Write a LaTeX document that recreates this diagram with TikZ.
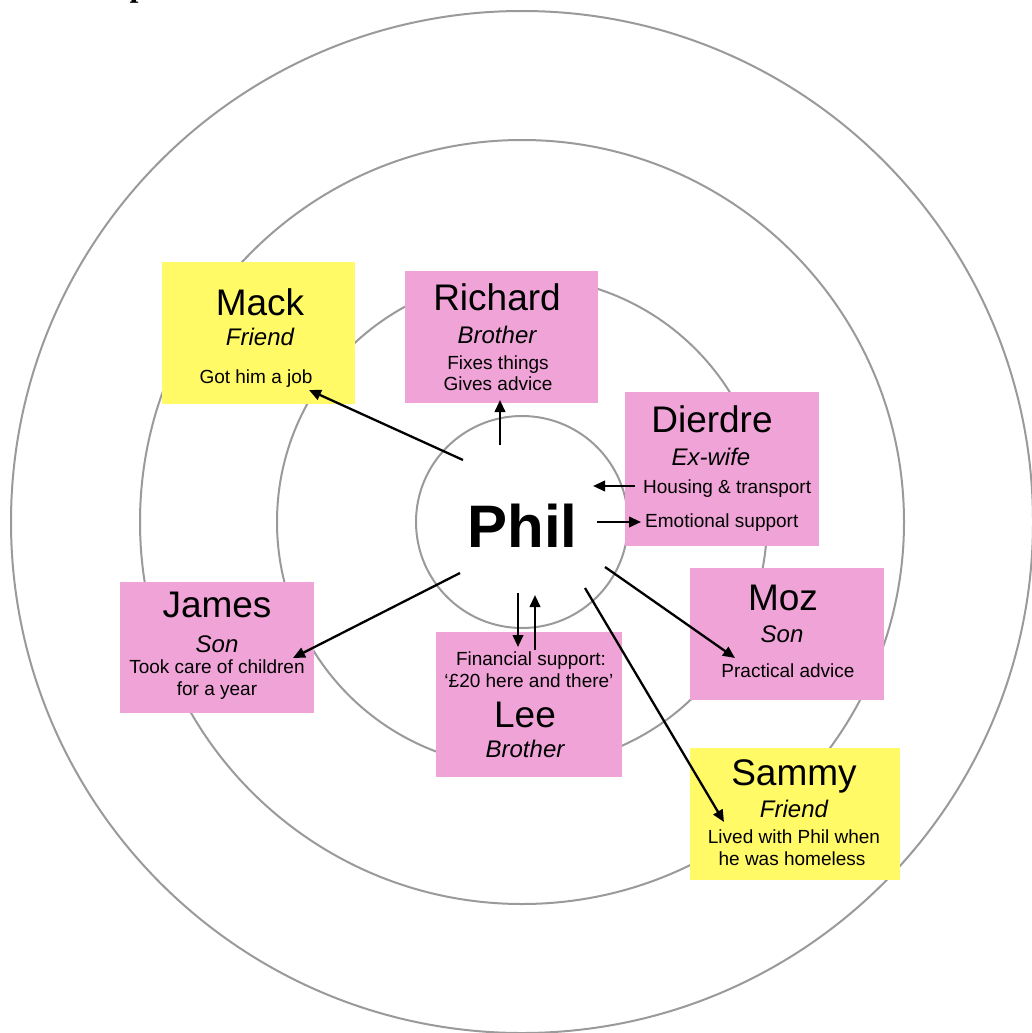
\documentclass[tikz,border=0pt]{standalone}
\usepackage{fontspec}
\setmainfont{Liberation Sans}
\newfontfamily\titlefont{Liberation Serif}
\usetikzlibrary{arrows.meta}
\definecolor{ringgray}{HTML}{9A9A9A}
\definecolor{cardpink}{HTML}{EFA3D7}
\definecolor{cardyellow}{HTML}{FFFA66}
\tikzset{
  ring/.style={draw=ringgray, line width=2pt},
  card/.style={rectangle, inner sep=0pt, anchor=north west},
  pinkcard/.style={card, fill=cardpink},
  yellowcard/.style={card, fill=cardyellow},
  nametext/.style={anchor=base, inner sep=0pt, font=\fontsize{37}{40}\selectfont},
  roletext/.style={anchor=base, inner sep=0pt, font=\fontsize{24}{28}\selectfont\itshape},
  infotext/.style={anchor=base, inner sep=0pt, font=\fontsize{19}{22}\selectfont},
  link/.style={line width=2.3pt, -{Triangle[length=12pt,width=10.5pt]}},
}
\begin{document}
\begin{tikzpicture}[x=1pt,y=-1pt]
\useasboundingbox (0,0) rectangle (1032,1033);
\fill[white] (0,0) rectangle (1032,1033);
\begin{scope}
\clip (0,0) rectangle (1032,1033);
% heading above the chart (runs off the top edge)
\node[anchor=base west, inner sep=0pt, font=\titlefont\bfseries\fontsize{32}{36}\selectfont] (heading) at (129.5,-3.5) {p};
% concentric rings
\draw[ring] (522,522) circle[radius=511pt];
\draw[ring] (522,522) circle[radius=382pt];
\draw[ring] (522,522) circle[radius=245pt];
\node[circle, ring, minimum size=212pt, inner sep=0pt] (philring) at (522,522) {};
\end{scope}

% centre
\node[anchor=base, inner sep=0pt, font=\fontsize{60}{64}\selectfont\bfseries] (phil) at (522.5,547) {Phil};

% Mack
\node[yellowcard, minimum width=193pt, minimum height=142pt] (mack) at (162,262) {};
\node[nametext] (mack-name) at (260,315) {Mack};
\node[roletext] (mack-role) at (260,345) {Friend};
\node[infotext] (mack-info) at (256,383) {Got him a job};

% Richard
\node[pinkcard, minimum width=193pt, minimum height=132pt] (richard) at (405,271) {};
\node[nametext] (richard-name) at (497,310) {Richard};
\node[roletext] (richard-role) at (497,343) {Brother};
\node[infotext] (richard-info1) at (498,369) {Fixes things};
\node[infotext] (richard-info2) at (498,390) {Gives advice};

% Dierdre
\node[pinkcard, minimum width=194pt, minimum height=154pt] (dierdre) at (625,392) {};
\node[nametext] (dierdre-name) at (712,432) {Dierdre};
\node[roletext] (dierdre-role) at (711,465) {Ex-wife};
\node[infotext, anchor=base west] (dierdre-info1) at (643,493) {Housing \& transport};
\node[infotext, anchor=base west] (dierdre-info2) at (645,527) {Emotional support};

% James
\node[pinkcard, minimum width=194pt, minimum height=131pt] (james) at (120,582) {};
\node[nametext] (james-name) at (217,617) {James};
\node[roletext] (james-role) at (217,652) {Son};
\node[infotext] (james-info1) at (217,673) {Took care of children};
\node[infotext] (james-info2) at (217,695) {for a year};

% Lee
\node[pinkcard, minimum width=186pt, minimum height=145pt] (lee) at (436,632) {};
\node[infotext] (lee-info1) at (531,665) {Financial support:};
\node[infotext] (lee-info2) at (529,687) {‘£20 here and there’};
\node[nametext] (lee-name) at (525,727) {Lee};
\node[roletext] (lee-role) at (525,757) {Brother};

% Moz
\node[pinkcard, minimum width=194pt, minimum height=132pt] (moz) at (690,568) {};
\node[nametext] (moz-name) at (783,610) {Moz};
\node[roletext] (moz-role) at (782,642) {Son};
\node[infotext] (moz-info) at (788,677) {Practical advice};

% Sammy
\node[yellowcard, minimum width=210pt, minimum height=132pt] (sammy) at (690,748) {};
\node[nametext] (sammy-name) at (794,785) {Sammy};
\node[roletext] (sammy-role) at (794,817) {Friend};
\node[infotext] (sammy-info1) at (794,843) {Lived with Phil when};
\node[infotext] (sammy-info2) at (792,865) {he was homeless};

% connector end points
\coordinate (to-mack-s) at (463,460);   \coordinate (to-mack-e) at (309,390);
\coordinate (to-richard-s) at (500,445); \coordinate (to-richard-e) at (500,400);
\coordinate (from-dierdre-s) at (635,486); \coordinate (from-dierdre-e) at (593,486);
\coordinate (to-dierdre-s) at (597,522); \coordinate (to-dierdre-e) at (641,522);
\coordinate (to-james-s) at (460,573);  \coordinate (to-james-e) at (293,658);
\coordinate (to-lee-s) at (518,593);    \coordinate (to-lee-e) at (518,647);
\coordinate (from-lee-s) at (535,650);  \coordinate (from-lee-e) at (535,595);
\coordinate (to-moz-s) at (605,567);    \coordinate (to-moz-e) at (735,658);
\coordinate (to-sammy-s) at (585,588);  \coordinate (to-sammy-e) at (724,822);

% connectors
\draw[link] (to-mack-s) -- (to-mack-e);
\draw[link] (to-richard-s) -- (to-richard-e);
\draw[link] (from-dierdre-s) -- (from-dierdre-e);
\draw[link] (to-dierdre-s) -- (to-dierdre-e);
\draw[link] (to-james-s) -- (to-james-e);
\draw[link] (to-lee-s) -- (to-lee-e);
\draw[link] (from-lee-s) -- (from-lee-e);
\draw[link] (to-moz-s) -- (to-moz-e);
\draw[link] (to-sammy-s) -- (to-sammy-e);
\end{tikzpicture}
\end{document}
